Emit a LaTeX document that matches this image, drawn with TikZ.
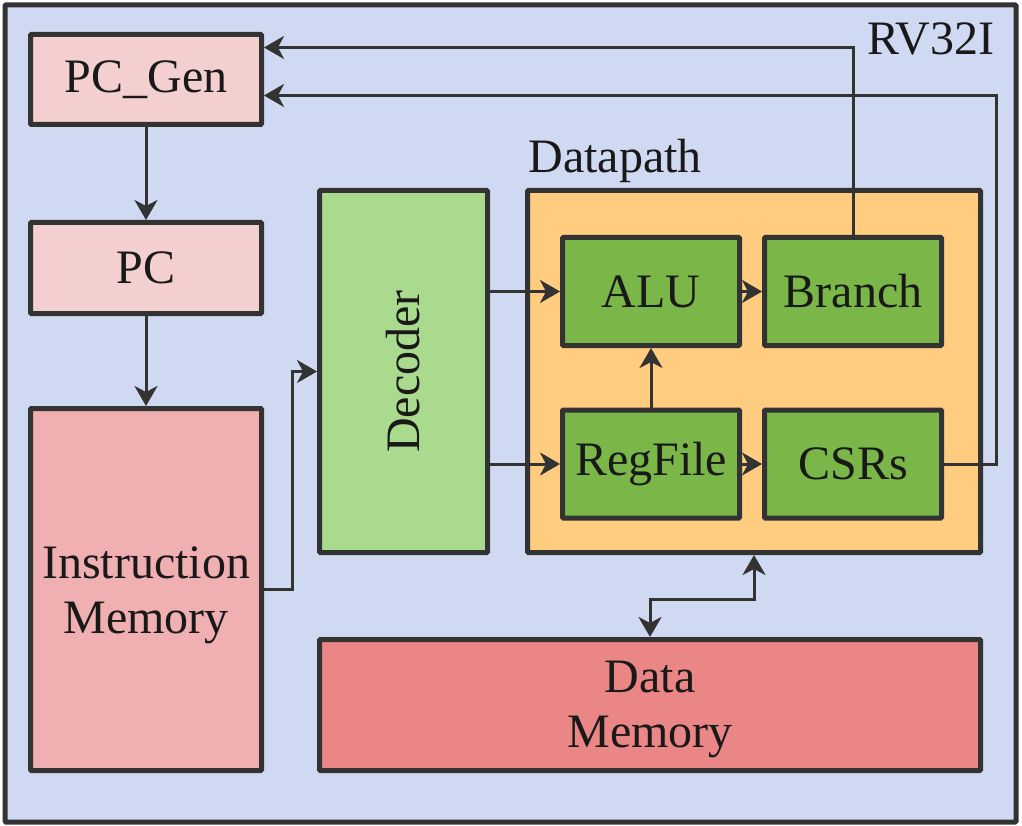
\documentclass[tikz,border=0pt]{standalone}
\usepackage{fontspec}
\setmainfont{Liberation Serif}
\usetikzlibrary{arrows.meta}

\definecolor{lineGray}{HTML}{333333}
\definecolor{socBlue}{RGB}{208,217,242}
\definecolor{pcPink}{RGB}{244,207,208}
\definecolor{imPink}{RGB}{240,176,178}
\definecolor{dmRed}{RGB}{234,134,133}
\definecolor{decGreen}{RGB}{169,218,141}
\definecolor{dpOrange}{RGB}{255,204,128}
\definecolor{unitGreen}{RGB}{122,182,72}

\begin{document}
\begin{tikzpicture}[x=1pt, y=-1pt,
  every node/.style={font=\fontsize{48}{55}\selectfont, text=black!90, align=center},
  blk/.style={draw=lineGray, line width=5pt, rectangle, rounded corners=1pt, inner sep=0pt},
  unit/.style={blk, fill=unitGreen, minimum width=177pt, minimum height=108pt},
  conn/.style={draw=lineGray, line width=3pt, -{Stealth[length=20pt, width=23pt, inset=6pt]}}]

  \useasboundingbox (0,0) rectangle (1022,826);

  %% Outer SoC frame
  \draw[lineGray, fill=socBlue, line width=5pt, rounded corners=1pt] (5,5) rectangle (1016,822);
  \node[anchor=base east] (rvLbl) at (998,55) {RV32I};

  %% Fetch side
  \node[blk, fill=pcPink, minimum width=231pt, minimum height=90pt] (pcGen) at (146,79.5) {PC\_Gen};
  \node[blk, fill=pcPink, minimum width=231pt, minimum height=91pt] (pc) at (146,268) {PC};
  \node[blk, fill=imPink, minimum width=231pt, minimum height=362pt] (imem) at (146,589.5) {};
  \node (imemTxt) at (146,595) {Instruction\\Memory};

  %% Decoder (text turned)
  \node[blk, fill=decGreen, minimum width=168pt, minimum height=362pt] (dec) at (403.5,371.5) {};
  \node[rotate=90] (decTxt) at (dec) {Decoder};

  %% Datapath and its units
  \node[blk, fill=dpOrange, minimum width=453pt, minimum height=362pt] (dp) at (754,371.5) {};
  \node[anchor=base west] (dpLbl) at (525,173) {Datapath};
  \node[unit] (alu) at (651,291.5) {ALU};
  \node[unit] (branch) at (853,291.5) {Branch};
  \node[unit] (regs) at (651,464) {RegFile};
  \node[unit] (csrs) at (853,464) {CSRs};

  %% Data memory
  \node[blk, fill=dmRed, minimum width=661pt, minimum height=131pt] (dmem) at (650,705) {};
  \node (dmemTxt) at (650,709) {Data\\Memory};

  % Fetch arrows
  \draw[conn] (pcGen) -- (pc);
  \draw[conn] (pc) -- (imem);
  \draw[conn] (imem.east) -- ++(28,0) |- (dec.west);

  % Decoder to datapath
  \draw[conn] (dec.east |- alu.west) -- (alu.west);
  \draw[conn] (dec.east |- regs.west) -- (regs.west);

  % Inside datapath
  \draw[conn] (regs) -- (alu);
  \draw[conn] (alu) -- (branch);
  \draw[conn] (regs) -- (csrs);

  % Feedback to PC_Gen
  \draw[conn] (branch.north) |- ([yshift=32pt]pcGen.east);
  \draw[conn] (csrs.east) -- ++(52,0) |- ([yshift=-16pt]pcGen.east);

  % Datapath <-> data memory
  \draw[conn, {Stealth[length=20pt, width=23pt, inset=6pt]}-{Stealth[length=20pt, width=23pt, inset=6pt]}]
    (dp.south) -- ++(0,44.5) -| (dmem.north);
\end{tikzpicture}
\end{document}
